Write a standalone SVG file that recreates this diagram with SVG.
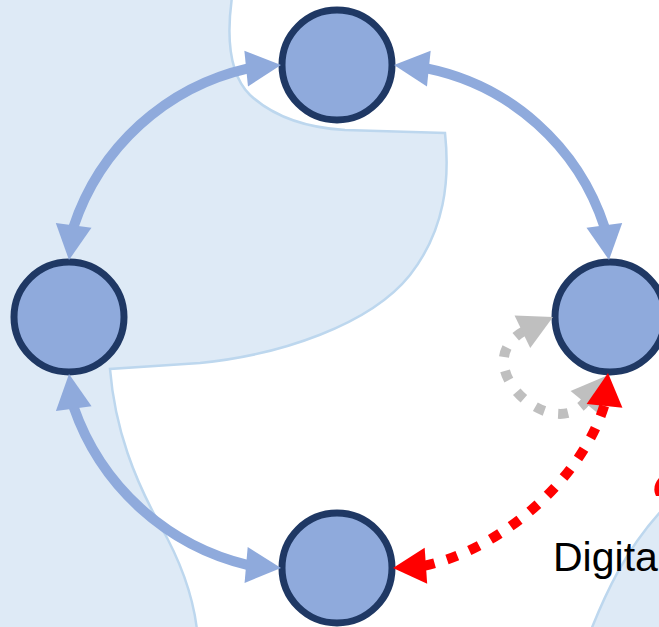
<svg xmlns="http://www.w3.org/2000/svg" xmlns:xlink="http://www.w3.org/1999/xlink" width="659" height="627" viewBox="0 0 659 627">
<style>
.land{fill:#DEEAF6;stroke:#BDD7EE;stroke-width:2.5}
.node{fill:#8FAADC;stroke:#1F3864;stroke-width:7}
.blue{fill:none;stroke:#8FAADC;stroke-width:10}
.red{fill:none;stroke:#FF0000;stroke-width:10;stroke-dasharray:11 13}
.gray{fill:none;stroke:#BFBFBF;stroke-width:10;stroke-dasharray:10 14}
.lbl{font-family:"Liberation Sans",Arial,sans-serif;font-size:41px;fill:#000}
</style>
<defs>
<path id="hb" d="M0,0 L-35,-18 L-35,18 Z" fill="#8FAADC"/>
<path id="hr" d="M0,0 L-33,-18 L-33,18 Z" fill="#FF0000"/>
<path id="hg" d="M0,0 L-34,-18 L-34,18 Z" fill="#BFBFBF"/>
</defs>
<rect width="659" height="627" fill="#FFFFFF"/>
<g id="background">
<path class="land" d="M-3,-3 L232,-3 C 226,40 230,75 250,95 C 275,118 310,128 345,130 L 445,133 C 450,180 445,230 410,275 C 370,325 280,355 200,363 L 110,369 C 115,430 135,480 160,525 C 180,560 193,595 197,630 L -3,630 Z"/>
<path class="land" d="M591,630 C 605,595 625,550 662,510 L 662,630 Z"/>
<path d="M660,477 C 654,483 653,490 656,496 L 660,496 Z" fill="#FF0000"/>
</g>
<g id="node-top"><circle class="node" cx="337" cy="65" r="55"/></g>
<g id="node-left"><circle class="node" cx="69" cy="317" r="55"/></g>
<g id="node-right"><circle class="node" cx="610" cy="317" r="55"/></g>
<g id="node-bottom"><circle class="node" cx="337" cy="568" r="55"/></g>
<g id="connectors">
<path class="blue" d="M73.4,227.3 A240,240 0 0 1 248.2,68.3"/>
<use xlink:href="#hb" transform="translate(281,65) rotate(-5.8)"/>
<use xlink:href="#hb" transform="translate(69,260) rotate(97.6)"/>
<path class="blue" d="M426.8,68.4 A237,237 0 0 1 604.6,227.3"/>
<use xlink:href="#hb" transform="translate(394,65) rotate(185.9)"/>
<use xlink:href="#hb" transform="translate(609,260) rotate(82.4)"/>
<path class="blue" d="M73.5,406.7 A245,245 0 0 0 248.1,565.1"/>
<use xlink:href="#hb" transform="translate(69,374) rotate(-97.8)"/>
<use xlink:href="#hb" transform="translate(281,568) rotate(5)"/>
<path class="gray" d="M524,331 C 464,365 553,445 586,401"/>
<use xlink:href="#hg" transform="translate(553,317) rotate(-25.8)"/>
<use xlink:href="#hg" transform="translate(606,376) rotate(-50.8)"/>
<path class="red" d="M423.9,565.8 C 500,550 582,480 604.8,403.8"/>
<use xlink:href="#hr" transform="translate(393,568) rotate(176)"/>
<use xlink:href="#hr" transform="translate(608,373) rotate(-84)"/>
</g>
<text class="lbl" x="553" y="571">Digita</text>
</svg>
